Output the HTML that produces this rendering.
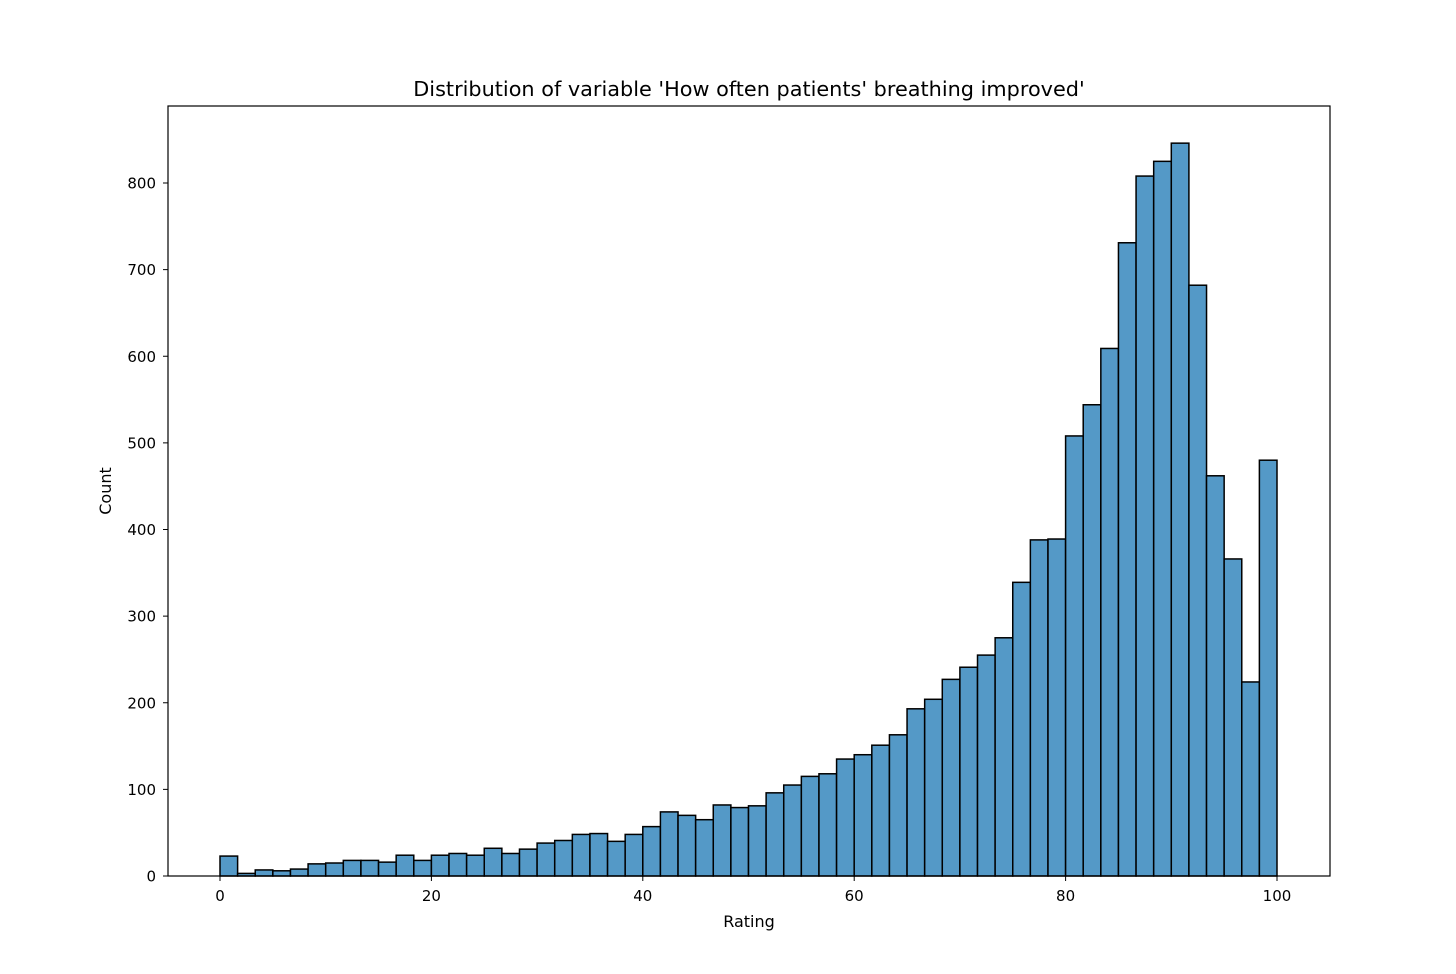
<!DOCTYPE html>
<html><head><meta charset="utf-8"><style>
body{margin:0;background:#fff;}
svg text{font-family:"DejaVu Sans","Liberation Sans",sans-serif;fill:#000;}
</style></head><body>
<svg id="chart" width="1456" height="969" xmlns="http://www.w3.org/2000/svg">
<rect width="1456" height="969" fill="#fff"/>
<text x="749" y="96" font-size="20.8" text-anchor="middle">Distribution of variable 'How often patients' breathing improved'</text>
<g id="bars"></g>
<rect x="168" y="106" width="1162" height="770" fill="none" stroke="#000" stroke-width="1.2"/>
<g id="xticks"></g><g id="yticks"></g>
<text x="749" y="927" font-size="16" text-anchor="middle">Rating</text>
<text x="111" y="491" font-size="16" text-anchor="middle" transform="rotate(-90 111 491)">Count</text>
</svg>
<script>
const counts=[23,3,7,6,8,14,15,18,18,16,24,18,24,26,24,32,26,31,38,41,48,49,40,48,57,74,70,65,82,79,81,96,105,115,118,135,140,151,163,193,204,227,241,255,275,339,388,389,508,544,609,731,808,825,846,682,462,366,224,480];
const binStart=0, binEnd=100;
const xTickLabels=[0,20,40,60,80,100];
const yTickLabels=[0,100,200,300,400,500,600,700,800];
const NS="http://www.w3.org/2000/svg";
const xs=v=>220+(v-0)*(1277-220)/100;
const ys=v=>876-v*(876-183)/800;
const bw=(binEnd-binStart)/counts.length;
const gb=document.getElementById('bars');
counts.forEach((c,i)=>{
 const r=document.createElementNS(NS,'rect');
 const x0=xs(binStart+i*bw),x1=xs(binStart+(i+1)*bw);
 r.setAttribute('x',x0);r.setAttribute('y',ys(c));
 r.setAttribute('width',x1-x0);r.setAttribute('height',ys(0)-ys(c));
 r.setAttribute('fill','#5499c7');r.setAttribute('stroke','#000');r.setAttribute('stroke-width','1.5');
 
 
 gb.appendChild(r);
});
const gx=document.getElementById('xticks');
xTickLabels.forEach(v=>{
 const l=document.createElementNS(NS,'line');
 l.setAttribute('x1',xs(v));l.setAttribute('x2',xs(v));l.setAttribute('y1',876);l.setAttribute('y2',881);l.setAttribute('stroke','#000');
 
 
 gx.appendChild(l);
 const t=document.createElementNS(NS,'text');
 t.setAttribute('x',xs(v));t.setAttribute('y',901);t.setAttribute('font-size','15');t.setAttribute('text-anchor','middle');t.textContent=v;
 
 
 gx.appendChild(t);
});
const gy=document.getElementById('yticks');
yTickLabels.forEach(v=>{
 const l=document.createElementNS(NS,'line');
 l.setAttribute('x1',163);l.setAttribute('x2',168);l.setAttribute('y1',ys(v));l.setAttribute('y2',ys(v));l.setAttribute('stroke','#000');
 
 
 gy.appendChild(l);
 const t=document.createElementNS(NS,'text');
 t.setAttribute('x',156);t.setAttribute('y',ys(v)+5.5);t.setAttribute('font-size','15');t.setAttribute('text-anchor','end');t.textContent=v;
 
 
 gy.appendChild(t);
});
</script>
</body></html>
